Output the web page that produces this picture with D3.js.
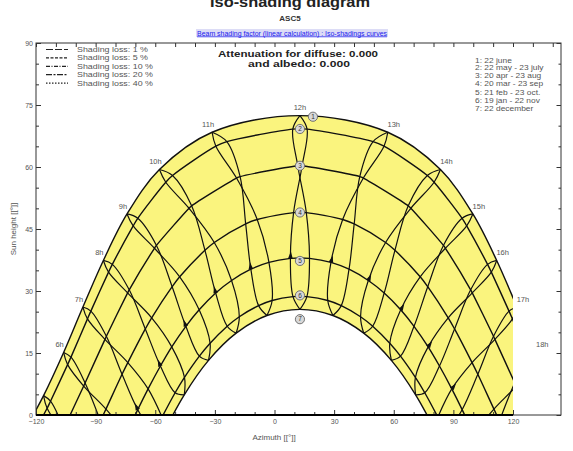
<!DOCTYPE html>
<html>
<head>
<meta charset="utf-8">
<script src="https://cdn.jsdelivr.net/npm/d3@7"></script>
<style>
  body { margin: 0; background: #fff; }
  svg { display: block; }
  text { font-family: "Liberation Sans", Arial, sans-serif; }
</style>
</head>
<body>
<svg id="chart" width="573" height="451"></svg>
<script>
// Sun positions at each legal hour: [hour, azimuth (deg), sun height (deg)]
const sunJun22 = [[4,-127.0,-4.89],[5,-116.2,4.69],[6,-106.1,15.13],[7,-96.4,26.12],[8,-86.1,37.39],[9,-74.2,48.64],[10,-57.9,59.39],[11,-31.4,68.41],[12,12.8,72.44],[13,57.0,68.41],[14,83.5,59.39],[15,99.8,48.64],[16,111.8,37.39],[17,122.0,26.12],[18,131.7,15.13],[19,141.8,4.69],[20,152.6,-4.89]];
const sunMay22 = [[4,-123.7,-6.55],[5,-112.7,3.34],[6,-102.4,14.00],[7,-92.4,25.13],[8,-81.6,36.44],[9,-68.8,47.58],[10,-51.3,57.94],[11,-24.0,66.14],[12,16.4,69.17],[13,55.1,65.03],[14,80.3,56.31],[15,96.7,45.75],[16,109.1,34.56],[17,119.7,23.26],[18,129.7,12.19],[19,140.0,1.62],[20,151.2,-8.10]];
const sunJul23 = [[4,-125.6,-8.10],[5,-114.4,1.62],[6,-104.1,12.19],[7,-94.1,23.26],[8,-83.5,34.56],[9,-71.1,45.75],[10,-54.7,56.31],[11,-29.5,65.03],[12,9.2,69.17],[13,49.6,66.14],[14,76.9,57.94],[15,94.4,47.58],[16,107.2,36.44],[17,118.0,25.13],[18,128.0,14.00],[19,138.3,3.34],[20,149.3,-6.55]];
const sunApr20 = [[5,-106.0,-3.25],[6,-95.3,7.76],[7,-84.6,19.05],[8,-73.1,30.28],[9,-59.4,41.03],[10,-41.7,50.60],[11,-17.3,57.68],[12,13.9,60.30],[13,44.7,57.32],[14,68.6,50.02],[15,86.0,40.34],[16,99.5,29.54],[17,110.9,18.29],[18,121.6,7.01],[19,132.4,-3.97]];
const sunAug23 = [[5,-106.8,-3.97],[6,-96.0,7.01],[7,-85.3,18.29],[8,-73.9,29.54],[9,-60.4,40.34],[10,-43.0,50.02],[11,-19.1,57.32],[12,11.7,60.30],[13,42.9,57.68],[14,67.3,50.60],[15,85.0,41.03],[16,98.7,30.28],[17,110.2,19.05],[18,120.9,7.76],[19,131.6,-3.25]];
const sunMar20 = [[6,-87.6,-1.43],[7,-76.7,9.85],[8,-65.0,20.82],[9,-51.5,31.04],[10,-35.0,39.85],[11,-14.5,46.23],[12,9.6,48.96],[13,34.3,47.31],[14,55.9,41.74],[15,73.3,33.44],[16,87.4,23.50],[17,99.4,12.67],[18,110.4,1.43],[19,121.3,-9.85]];
const sunSep23 = [[5,-95.7,-9.85],[6,-84.8,1.43],[7,-73.8,12.67],[8,-61.8,23.50],[9,-47.7,33.44],[10,-30.3,41.74],[11,-8.7,47.31],[12,16.0,48.96],[13,40.1,46.23],[14,60.6,39.85],[15,77.1,31.04],[16,90.6,20.82],[17,102.3,9.85],[18,113.2,-1.43]];
const sunFeb21 = [[6,-79.5,-9.81],[7,-68.8,1.29],[8,-57.4,11.85],[9,-44.6,21.45],[10,-29.6,29.51],[11,-11.9,35.27],[12,8.0,37.90],[13,28.4,36.93],[14,47.2,32.54],[15,63.5,25.45],[16,77.3,16.48],[17,89.2,6.31],[18,100.1,-4.59]];
const sunOct23 = [[6,-74.5,-4.59],[7,-63.6,6.31],[8,-51.7,16.48],[9,-37.9,25.45],[10,-21.6,32.54],[11,-2.8,36.93],[12,17.6,37.90],[13,37.5,35.27],[14,55.2,29.51],[15,70.2,21.45],[16,83.0,11.85],[17,94.4,1.29],[18,105.1,-9.81]];
const sunJan19 = [[7,-60.9,-4.61],[8,-50.0,5.38],[9,-37.8,14.24],[10,-23.8,21.47],[11,-8.0,26.46],[12,9.3,28.64],[13,26.8,27.69],[14,43.3,23.77],[15,58.0,17.36],[16,70.9,9.09],[17,82.2,-0.51]];
const sunNov22 = [[7,-56.6,-0.51],[8,-45.3,9.09],[9,-32.4,17.36],[10,-17.7,23.77],[11,-1.2,27.69],[12,16.3,28.64],[13,33.6,26.46],[14,49.4,21.47],[15,63.4,14.24],[16,75.6,5.38],[17,86.5,-4.61]];
const sunDec22 = [[7,-56.2,-4.69],[8,-45.4,4.89],[9,-33.2,13.22],[10,-19.3,19.80],[11,-3.8,24.07],[12,12.8,25.56],[13,29.4,24.07],[14,44.9,19.80],[15,58.8,13.22],[16,71.0,4.89],[17,81.8,-4.69]];

// Solar noon of every sun path
const noonAzimuth = 12.8;
const sunPathPeak = [72.4, 69.2, 60.3, 49.0, 38.0, 28.7, 25.6];
const sunPathNames = ["1: 22 june","2: 22 may - 23 july","3: 20 apr - 23 aug","4: 20 mar - 23 sep","5: 21 feb - 23 oct.","6: 19 jan - 22 nov","7: 22 december"];
const sunPathDates = [[sunJun22],[sunMay22,sunJul23],[sunApr20,sunAug23],[sunMar20,sunSep23],[sunFeb21,sunOct23],[sunJan19,sunNov22],[sunDec22]];
// Hour lines: first half of the year (Dec -> Jun) and second half (Jun -> Dec)
const firstHalf = [sunDec22, sunJan19, sunFeb21, sunMar20, sunApr20, sunMay22, sunJun22];
const secondHalf = [sunJun22, sunJul23, sunAug23, sunSep23, sunOct23, sunNov22, sunDec22];
const hourLines = [5,6,7,8,9,10,11,12,13,14,15,16,17,18,19];
const labelledHours = [6,7,8,9,10,11,12,13,14,15,16,17,18];
const arrowHours = [7,8,9,10,11,12,13,14,15,16,17];

// Iso-shading legend
const shadingLossLabels = ["Shading loss: 1 %","Shading loss: 5 %","Shading loss: 10 %","Shading loss: 20 %","Shading loss: 40 %"];

// Axes
const azTicks = [-120,-90,-60,-30,0,30,60,90,120];
const heightTicks = [0,15,30,45,60,75,90];

const svg = d3.select("#chart");
const x = d3.scaleLinear().domain([-120,120]).range([36,513]);
const y = d3.scaleLinear().domain([0,90]).range([415,43]);
const frameRight = 561;

// curves are drawn for azimuths -120..120 only
svg.append("defs").append("clipPath").attr("id","plotClip")
  .append("rect").attr("x",x(-120)).attr("y",y(90)).attr("width",x(120)-x(-120)).attr("height",y(0)-y(90));

const line = d3.line().x(d => x(d[1])).y(d => y(d[2])).curve(d3.curveCatmullRom.alpha(0.5));

// keep the points above the horizon plus one neighbour below on each side
function keepVisible(pts) {
  const idx = pts.map((p,i) => p[2] >= 0 ? i : -1).filter(i => i >= 0);
  if (!idx.length) return [];
  const a = Math.max(0, idx[0]-1), b = Math.min(pts.length-1, idx[idx.length-1]+1);
  return pts.slice(a, b+1);
}

const pathPoints = sunPathDates.map((dates,i) => {
  let pts = dates.flat();
  if (!pts.some(p => p[1] === noonAzimuth)) pts = pts.concat([[null, noonAzimuth, sunPathPeak[i]]]);
  return keepVisible(pts.sort((p,q) => p[1]-q[1]));
});

const plot = svg.append("g").attr("clip-path","url(#plotClip)");

// band between the 22 june and 22 december paths
plot.append("path").attr("d", line(pathPoints[0]) + "Z").attr("fill","#faf47e");
plot.append("path").attr("d", line(pathPoints[6]) + "Z").attr("fill","#fff");

// sun paths
plot.selectAll("path.sunpath").data(pathPoints).enter().append("path")
  .attr("class","sunpath").attr("d", line)
  .attr("fill","none").attr("stroke","#111").attr("stroke-width",1.4);

// hour lines (two branches each)
hourLines.forEach(h => {
  [firstHalf, secondHalf].forEach(branch => {
    const pts = keepVisible(branch.map(arr => arr.find(p => p[0] === h)).filter(Boolean));
    if (pts.length > 1) {
      plot.append("path").attr("d", line(pts))
        .attr("fill","none").attr("stroke","#111").attr("stroke-width",1.2);
    }
  });
});

// direction arrows on the hour lines (february -> march)
arrowHours.forEach(h => {
  const p = sunFeb21.find(d => d[0] === h), q = sunMar20.find(d => d[0] === h);
  const px = x(p[1]), py = y(p[2]), qx = x(q[1]), qy = y(q[2]);
  const ang = Math.atan2(qy-py, qx-px) * 180 / Math.PI;
  plot.append("path").attr("d","M7,0L0,-2.3L0,2.3Z")
    .attr("transform",`translate(${px},${py}) rotate(${ang})`)
    .attr("fill","#111");
});

// numbered markers at solar noon of each path
const markNudge = [[13,1],[0,0],[0,0],[0,0],[0,3],[0,-1],[0,10]];
const marks = svg.append("g");
sunPathPeak.forEach((h,i) => {
  const g = marks.append("g")
    .attr("transform",`translate(${x(noonAzimuth)+markNudge[i][0]},${y(h)+markNudge[i][1]})`);
  g.append("circle").attr("r",4.6).attr("fill","#d8d8d8").attr("stroke","#666").attr("stroke-width",0.9);
  g.append("text").attr("text-anchor","middle").attr("dy","0.35em")
    .attr("font-size",6.5).attr("fill","#333").text(i+1);
});

// hour labels next to the 22 june points
const hl = svg.append("g");
labelledHours.forEach(h => {
  const p = sunJun22.find(d => d[0] === h);
  const dx = h < 12 ? -4 : (h > 12 ? 6 : 0);
  hl.append("text").attr("x", x(p[1]) + dx).attr("y", y(p[2]) - 8)
    .attr("dy","0.35em").attr("text-anchor","middle")
    .attr("font-size",7.5).attr("fill","#555").text(h + "h");
});

// frame and axes
svg.append("rect").attr("x",36).attr("y",43).attr("width",frameRight-36).attr("height",372)
  .attr("fill","none").attr("stroke","#333").attr("stroke-width",1);

const axisStyle = g => {
  g.select(".domain").remove();
  g.selectAll("line").attr("stroke","#333");
  g.selectAll("text").attr("font-size",7).attr("fill","#555")
    .attr("font-family","'Liberation Sans', Arial, sans-serif");
};
svg.append("g").attr("transform","translate(0,415)")
  .call(d3.axisBottom(x).tickValues(azTicks).tickSizeInner(-5).tickSizeOuter(0).tickPadding(4).tickFormat(d3.format("d")))
  .call(axisStyle);
svg.append("g").attr("transform","translate(0,415)")
  .call(d3.axisBottom(x).tickValues(d3.range(-110,120,10).filter(v => v % 30)).tickSizeInner(-3).tickSizeOuter(0).tickFormat(""))
  .call(axisStyle);
svg.append("g").attr("transform","translate(0,43)")
  .call(d3.axisTop(x).tickValues(d3.range(-120,141,10)).tickSizeInner(-4).tickSizeOuter(0).tickFormat(""))
  .call(axisStyle);
svg.append("g").attr("transform","translate(36,0)")
  .call(d3.axisLeft(y).tickValues(heightTicks).tickSizeInner(-5).tickSizeOuter(0).tickPadding(3))
  .call(axisStyle);
svg.append("g").attr("transform","translate(36,0)")
  .call(d3.axisLeft(y).tickValues(d3.range(5,90,5).filter(v => v % 15)).tickSizeInner(-3).tickSizeOuter(0).tickFormat(""))
  .call(axisStyle);
svg.append("g").attr("transform",`translate(${frameRight},0)`)
  .call(d3.axisRight(y).tickValues(heightTicks).tickSizeInner(-4.5).tickSizeOuter(0).tickFormat(""))
  .call(axisStyle);
svg.append("g").attr("transform",`translate(${frameRight},0)`)
  .call(d3.axisRight(y).tickValues(d3.range(5,90,5).filter(v => v % 15)).tickSizeInner(-2.5).tickSizeOuter(0).tickFormat(""))
  .call(axisStyle);
// horizon line
svg.append("line").attr("x1",x(-120)).attr("x2",x(120)).attr("y1",415).attr("y2",415)
  .attr("stroke","#000").attr("stroke-width",2.2);

// axis titles
svg.append("text").attr("x",274).attr("y",440).attr("text-anchor","middle")
  .attr("font-size",8).attr("fill","#555").text("Azimuth [[°]]");
svg.append("text").attr("transform","translate(16,229) rotate(-90)").attr("text-anchor","middle")
  .attr("font-size",8).attr("fill","#555").text("Sun height [[°]]");

// titles
svg.append("text").attr("x",290).attr("y",7).attr("text-anchor","middle")
  .attr("font-size",15).attr("font-weight","bold").attr("fill","#222")
  .attr("textLength",160).attr("lengthAdjust","spacingAndGlyphs").text("Iso-shading diagram");
svg.append("text").attr("x",290).attr("y",21).attr("text-anchor","middle")
  .attr("font-size",8).attr("font-weight","bold").attr("fill","#333").text("ASC5");
svg.append("rect").attr("x",196).attr("y",29).attr("width",192).attr("height",8).attr("fill","#dcdcf6");
svg.append("text").attr("x",292).attr("y",35.5).attr("text-anchor","middle")
  .attr("font-size",7).attr("fill","#1a1aee").attr("text-decoration","underline")
  .attr("textLength",190).attr("lengthAdjust","spacingAndGlyphs")
  .text("Beam shading factor (linear calculation) : Iso-shadings curves");
svg.append("text").attr("x",298).attr("y",57).attr("text-anchor","middle")
  .attr("font-size",8.5).attr("font-weight","bold").attr("fill","#222")
  .attr("textLength",160).attr("lengthAdjust","spacingAndGlyphs").text("Attenuation for diffuse: 0.000");
svg.append("text").attr("x",299).attr("y",67).attr("text-anchor","middle")
  .attr("font-size",8.5).attr("font-weight","bold").attr("fill","#222")
  .attr("textLength",102).attr("lengthAdjust","spacingAndGlyphs").text("and albedo: 0.000");

// widen a legend text horizontally without changing its height
const widen = (txt, k) => {
  const w = txt.node().getComputedTextLength();
  txt.attr("textLength", w*k).attr("lengthAdjust","spacingAndGlyphs");
};

// iso-shading legend
const dashes = ["7,2","3,1.5","4,1.5,1,1.5","6,1.5,2,1.5","1.5,1.5"];
const lg = svg.append("g");
shadingLossLabels.forEach((t,i) => {
  const yy = 49.5 + i*8.4;
  lg.append("line").attr("x1",46).attr("x2",68).attr("y1",yy).attr("y2",yy)
    .attr("stroke","#222").attr("stroke-width",1.2).attr("stroke-dasharray",dashes[i]);
  const txt = lg.append("text").attr("x",77).attr("y",yy).attr("dy","0.35em")
    .attr("font-size",7.4).attr("fill","#555").text(t);
  widen(txt, 1.2);
});

// sun path legend
const rg = svg.append("g");
sunPathNames.forEach((t,i) => {
  const txt = rg.append("text").attr("x",475).attr("y",60 + i*7.8 + (i>3 ? 1.5 : 0)).attr("dy","0.35em")
    .attr("font-size",7.3).attr("fill","#555").text(t);
  widen(txt, 1.15);
});
</script>
</body>
</html>
